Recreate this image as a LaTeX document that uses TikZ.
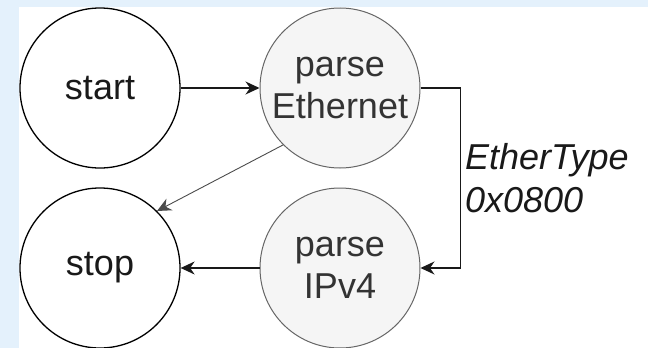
\documentclass[tikz,border=0pt]{standalone}
\usepackage{fontspec}
\setmainfont{Liberation Sans}
\usetikzlibrary{arrows.meta}
\definecolor{bgblue}{HTML}{E4F1FC}
\definecolor{grayfill}{HTML}{F5F5F5}
\definecolor{graystroke}{HTML}{666666}
\definecolor{graytext}{HTML}{333333}
\tikzset{
  state/.style={circle, draw=black, fill=white, line width=1.3pt, minimum size=160pt, inner sep=0pt, align=center, font=\fontsize{36}{42}\selectfont, text=black!90},
  grstate/.style={state, draw=graystroke, fill=grayfill, line width=1pt, text=graytext},
  arr/.style={line width=1.3pt, draw=black!90, -{Stealth[length=14pt, width=13pt, inset=4.5pt]}},
  thinarr/.style={arr, line width=0.9pt, draw=black!70},
  lbl/.style={font=\fontsize{36}{43}\selectfont\itshape, align=left, inner sep=4pt, text=black!90}
}
\begin{document}
\begin{tikzpicture}[x=1pt, y=-1pt]
\useasboundingbox (0,0) rectangle (648,348);
\fill[bgblue] (0,0) rectangle (648,348);
\fill[white] (19,7) rectangle (648,348);
\node[state] (start) at (100,88) {start};
\node[grstate] (pe) at (340,88) {parse\\Ethernet};
\node[state] (stop) at (100,268) {stop};
\node[grstate] (pi) at (340,268) {parse\\IPv4};
\draw[arr] (start) -- (pe);
\draw[arr] (pi) -- (stop);
\draw[thinarr] (pe.south west) -- (stop.north east);
\draw[arr] (pe.east) -- ++(40,0) |- node[pos=0.25, anchor=west, lbl] {EtherType\\0x0800} (pi.east);
\end{tikzpicture}
\end{document}
